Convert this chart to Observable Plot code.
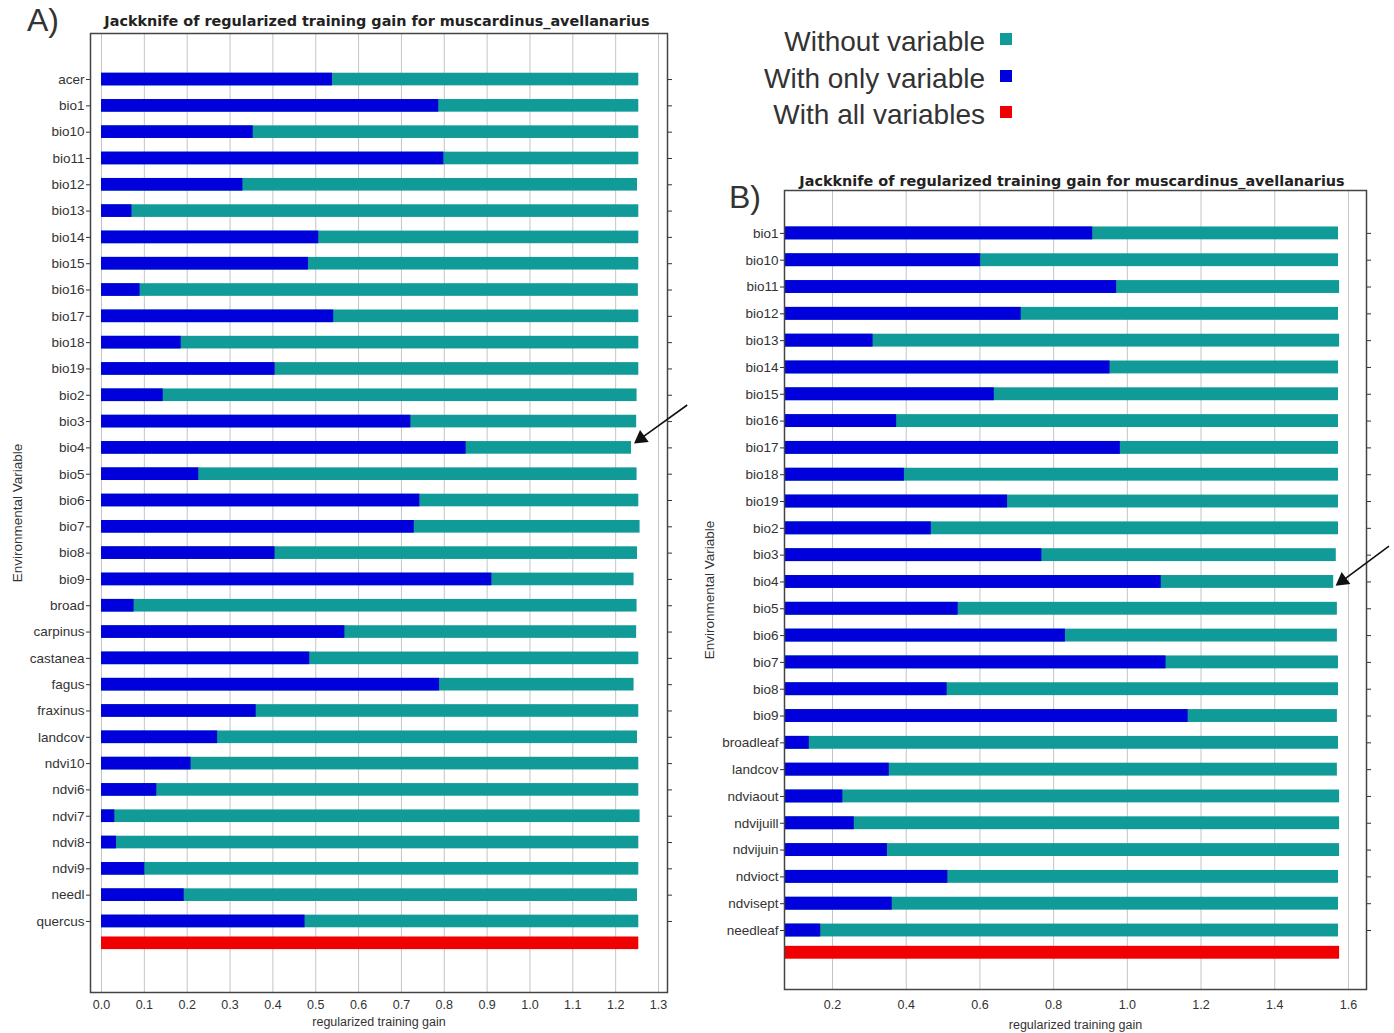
<!DOCTYPE html>
<html><head><meta charset="utf-8">
<script src="https://cdn.jsdelivr.net/npm/d3@7"></script>
<script src="https://cdn.jsdelivr.net/npm/@observablehq/plot@0.6"></script>
<style>
body{margin:0;background:#fff;}
#page{position:relative;width:1394px;height:1033px;overflow:hidden;font-family:"Liberation Sans",Arial,sans-serif;color:#333;}
.abs{position:absolute;white-space:nowrap;line-height:1;}
.plabel{font-size:32px;color:#333;}
.ptitle{font-family:"DejaVu Sans",Verdana,sans-serif;font-size:14.4px;font-weight:bold;color:#222;transform:translateX(-50%);}
.leg{position:absolute;right:409px;font-size:28px;line-height:36.5px;text-align:right;color:#333;white-space:nowrap;}
.sw{position:absolute;width:12px;height:12px;}
</style></head><body>
<div id="page">
  <div class="abs plabel" style="left:27px;top:4px;">A)</div>
  <div class="abs plabel" style="left:729px;top:181px;">B)</div>
  <div class="abs ptitle" style="left:377px;top:14px;">Jackknife of regularized training gain for muscardinus_avellanarius</div>
  <div class="abs ptitle" style="left:1072px;top:174px;">Jackknife of regularized training gain for muscardinus_avellanarius</div>
  <div id="legend"></div>
  <div id="pa" class="abs" style="left:0;top:0;"></div>
  <div id="pb" class="abs" style="left:700px;top:150px;"></div>
</div>
<script>
// ---------- data ----------
const seriesLabels = ["Without variable", "With only variable", "With all variables"];
const seriesColors = ["#109b98", "#0000dc", "#f00000"];

const varsA = ["acer","bio1","bio10","bio11","bio12","bio13","bio14","bio15","bio16","bio17","bio18","bio19","bio2","bio3","bio4","bio5","bio6","bio7","bio8","bio9","broad","carpinus","castanea","fagus","fraxinus","landcov","ndvi10","ndvi6","ndvi7","ndvi8","ndvi9","needl","quercus"];
const onlyA = [0.539,0.787,0.354,0.799,0.330,0.071,0.507,0.483,0.090,0.542,0.186,0.405,0.144,0.722,0.851,0.227,0.743,0.730,0.405,0.911,0.076,0.568,0.486,0.789,0.361,0.271,0.209,0.129,0.031,0.035,0.101,0.193,0.475];
const withoutA = [1.254,1.254,1.254,1.254,1.251,1.254,1.254,1.254,1.253,1.254,1.254,1.254,1.250,1.249,1.237,1.250,1.254,1.257,1.251,1.243,1.250,1.249,1.254,1.243,1.254,1.251,1.254,1.254,1.257,1.254,1.254,1.251,1.254];
const allA = 1.254;
const ticksA = [0,0.1,0.2,0.3,0.4,0.5,0.6,0.7,0.8,0.9,1.0,1.1,1.2,1.3];

const varsB = ["bio1","bio10","bio11","bio12","bio13","bio14","bio15","bio16","bio17","bio18","bio19","bio2","bio3","bio4","bio5","bio6","bio7","bio8","bio9","broadleaf","landcov","ndviaout","ndvijuill","ndvijuin","ndvioct","ndvisept","needleaf"];
const onlyB = [0.906,0.602,0.971,0.712,0.310,0.953,0.639,0.374,0.981,0.395,0.675,0.468,0.768,1.092,0.541,0.832,1.105,0.511,1.165,0.137,0.354,0.228,0.259,0.349,0.513,0.362,0.168];
const withoutB = [1.573,1.573,1.576,1.573,1.576,1.573,1.573,1.573,1.573,1.573,1.573,1.573,1.567,1.560,1.570,1.570,1.573,1.573,1.570,1.573,1.570,1.576,1.576,1.576,1.573,1.573,1.573];
const allB = 1.576;
const ticksB = [0.2,0.4,0.6,0.8,1.0,1.2,1.4,1.6];

// ---------- legend ----------
const legend = document.getElementById("legend");
seriesLabels.forEach((t, k) => {
  const d = document.createElement("div");
  d.className = "leg";
  d.style.top = (24 + k * 36.5) + "px";
  d.textContent = t;
  legend.appendChild(d);
  const s = document.createElement("div");
  s.className = "sw";
  s.style.left = "1000px";
  s.style.top = (33 + k * 36.5) + "px";
  s.style.background = seriesColors[k];
  legend.appendChild(s);
});

// ---------- panel ----------
function panel(cfg) {
  const {vars, only, without, all, base, xDomain, yDomain, xTicks, fmt, width, height, margins, labelOffsetX, labelOffsetY, tickPadX} = cfg;
  const rows = vars.map((v, i) => ({name: v, i, only: only[i], without: without[i]}));
  const n = vars.length;
  const allRow = [{i: n - 1 + 0.83, all}];
  const h = 0.24;
  const b4 = rows.filter(d => d.name === "bio4");
  return Plot.plot({
    width, height, ...margins,
    style: {fontFamily: "'Liberation Sans', Arial, sans-serif", fontSize: "12.5px", color: "#333", background: "transparent", overflow: "visible"},
    x: {domain: xDomain, axis: null},
    y: {domain: yDomain, axis: null},
    marks: [
      Plot.gridX(xTicks, {stroke: "#c4c4c4", strokeOpacity: 1, strokeWidth: 1}),
      Plot.rect(rows, {x1: () => base, x2: "without", y1: d => d.i - h, y2: d => d.i + h, fill: seriesColors[0]}),
      Plot.rect(rows, {x1: () => base, x2: "only", y1: d => d.i - h, y2: d => d.i + h, fill: seriesColors[1]}),
      Plot.rect(allRow, {x1: () => base, x2: "all", y1: d => d.i - h, y2: d => d.i + h, fill: seriesColors[2]}),
      Plot.frame({stroke: "#444", strokeWidth: 1.5}),
      Plot.axisX({ticks: xTicks, tickFormat: fmt, tickSize: 0, tickPadding: tickPadX, fontSize: 12.5,
        label: "regularized training gain", labelAnchor: "center", labelArrow: "none", labelOffset: labelOffsetX}),
      Plot.axisY({ticks: d3.range(n), tickFormat: i => vars[i], tickSize: 4, tickPadding: 2, fontSize: 13.5,
        label: "Environmental Variable", labelAnchor: "center", labelArrow: "none", labelOffset: labelOffsetY}),
      Plot.axisY({anchor: "right", ticks: d3.range(n), tickFormat: () => "", tickSize: 4, label: null}),
      Plot.link(b4, {x1: d => d.without + cfg.arrow[0], y1: d => d.i + cfg.arrow[1], x2: d => d.without + cfg.arrow[2], y2: d => d.i + cfg.arrow[3], stroke: "#111", strokeWidth: 1.6}),
      Plot.dot(b4, {x: d => d.without + cfg.arrow[2], y: d => d.i + cfg.arrow[3], symbol: "triangle", r: 5.5, fill: "#111", stroke: "none", rotate: 234})
    ]
  });
}

document.getElementById("pa").appendChild(panel({
  vars: varsA, only: onlyA, without: withoutA, all: allA, base: 0,
  xDomain: [-0.0257, 1.321], yDomain: [34.7, -1.75], xTicks: ticksA, fmt: d3.format(".1f"),
  width: 700, height: 1033, margins: {marginLeft: 90, marginRight: 33, marginTop: 33, marginBottom: 41},
  labelOffsetX: 33, labelOffsetY: 78, tickPadX: 8,
  arrow: [0.13, -1.63, 0.022, -0.36]
}));

document.getElementById("pb").appendChild(panel({
  vars: varsB, only: onlyB, without: withoutB, all: allB, base: 0.0697,
  xDomain: [0.0697, 1.649], yDomain: [28.2, -1.6], xTicks: ticksB, fmt: d3.format(".1f"),
  width: 694, height: 883, margins: {marginLeft: 84, marginRight: 28, marginTop: 40, marginBottom: 44},
  labelOffsetX: 39, labelOffsetY: 80, tickPadX: 11,
  arrow: [0.15, -1.34, 0.024, -0.05]
}));
</script>
</body></html>
